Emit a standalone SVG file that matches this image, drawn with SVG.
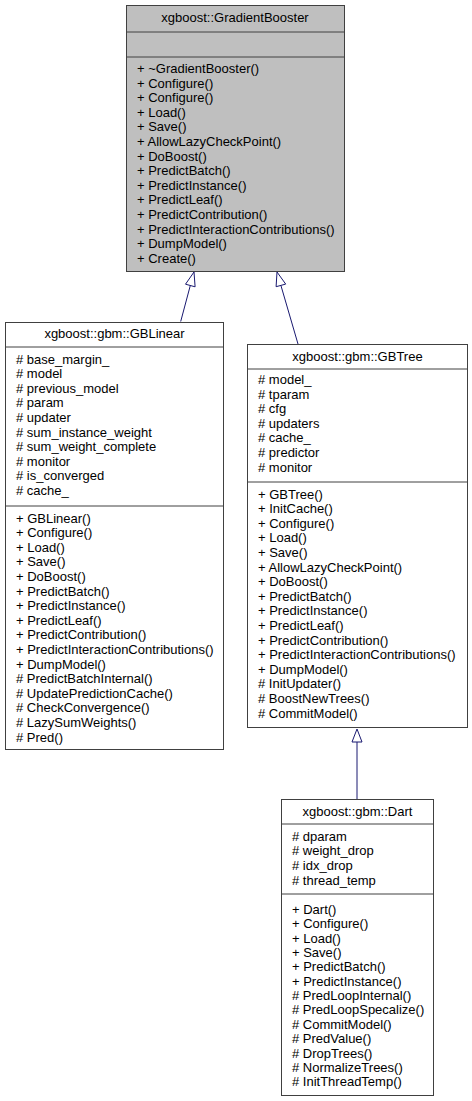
<svg xmlns="http://www.w3.org/2000/svg" width="472" height="1101" viewBox="0 0 472 1101">
<style>
text{font-family:"Liberation Sans",Arial,sans-serif;font-size:13px;fill:#000}
.t{text-anchor:middle}
.box{stroke:#404040;stroke-width:1}
.sep{stroke:#404040;stroke-width:1}
.edge{stroke:#191970;stroke-width:1;fill:none}
.head{stroke:#191970;stroke-width:1;fill:#fff}
</style>
<rect width="472" height="1101" fill="#fff"/>
<g id="connectors">
<line class="edge" x1="190.3" y1="285.5" x2="180.7" y2="321.5"/>
<polygon class="head" points="194,272 185.5,284.2 195.1,286.8"/>
<line class="edge" x1="280.9" y1="285.4" x2="298" y2="344"/>
<polygon class="head" points="277,272 285.7,284.1 276.1,286.7"/>
<line class="edge" x1="357" y1="742" x2="357" y2="799"/>
<polygon class="head" points="357,729 352,742 362,742"/>
</g>
<g id="GradientBooster">
<rect class="box" x="126.5" y="5.5" width="218" height="266" fill="#bfbfbf"/>
<line class="sep" x1="126.5" y1="32" x2="344.5" y2="32"/>
<line class="sep" x1="126.5" y1="57" x2="344.5" y2="57"/>
<text class="t" x="235" y="22">xgboost::GradientBooster</text>
<text x="137" y="73">+ ~GradientBooster()</text>
<text x="137" y="87.6">+ Configure()</text>
<text x="137" y="102.2">+ Configure()</text>
<text x="137" y="116.8">+ Load()</text>
<text x="137" y="131.4">+ Save()</text>
<text x="137" y="146">+ AllowLazyCheckPoint()</text>
<text x="137" y="160.6">+ DoBoost()</text>
<text x="137" y="175.2">+ PredictBatch()</text>
<text x="137" y="189.8">+ PredictInstance()</text>
<text x="137" y="204.4">+ PredictLeaf()</text>
<text x="137" y="219">+ PredictContribution()</text>
<text x="137" y="233.6">+ PredictInteractionContributions()</text>
<text x="137" y="248.2">+ DumpModel()</text>
<text x="137" y="262.8">+ Create()</text>
</g>
<g id="GBLinear">
<rect class="box" x="5.5" y="322.5" width="218" height="427" fill="#fff"/>
<line class="sep" x1="5.5" y1="347" x2="223.5" y2="347"/>
<line class="sep" x1="5.5" y1="506" x2="223.5" y2="506"/>
<text class="t" x="114.5" y="338">xgboost::gbm::GBLinear</text>
<text x="16" y="363.5"># base_margin_</text>
<text x="16" y="378.1"># model</text>
<text x="16" y="392.7"># previous_model</text>
<text x="16" y="407.3"># param</text>
<text x="16" y="421.9"># updater</text>
<text x="16" y="436.5"># sum_instance_weight</text>
<text x="16" y="451.1"># sum_weight_complete</text>
<text x="16" y="465.7"># monitor</text>
<text x="16" y="480.3"># is_converged</text>
<text x="16" y="494.9"># cache_</text>
<text x="16" y="522.5">+ GBLinear()</text>
<text x="16" y="537.1">+ Configure()</text>
<text x="16" y="551.7">+ Load()</text>
<text x="16" y="566.3">+ Save()</text>
<text x="16" y="580.9">+ DoBoost()</text>
<text x="16" y="595.5">+ PredictBatch()</text>
<text x="16" y="610.1">+ PredictInstance()</text>
<text x="16" y="624.7">+ PredictLeaf()</text>
<text x="16" y="639.3">+ PredictContribution()</text>
<text x="16" y="653.9">+ PredictInteractionContributions()</text>
<text x="16" y="668.5">+ DumpModel()</text>
<text x="16" y="683.1"># PredictBatchInternal()</text>
<text x="16" y="697.7"># UpdatePredictionCache()</text>
<text x="16" y="712.3"># CheckConvergence()</text>
<text x="16" y="726.9"># LazySumWeights()</text>
<text x="16" y="741.5"># Pred()</text>
</g>
<g id="GBTree">
<rect class="box" x="247.5" y="344.5" width="220" height="383" fill="#fff"/>
<line class="sep" x1="247.5" y1="369" x2="467.5" y2="369"/>
<line class="sep" x1="247.5" y1="482" x2="467.5" y2="482"/>
<text class="t" x="357.5" y="361">xgboost::gbm::GBTree</text>
<text x="258" y="384"># model_</text>
<text x="258" y="398.6"># tparam</text>
<text x="258" y="413.2"># cfg</text>
<text x="258" y="427.8"># updaters</text>
<text x="258" y="442.4"># cache_</text>
<text x="258" y="457"># predictor</text>
<text x="258" y="471.6"># monitor</text>
<text x="258" y="498.5">+ GBTree()</text>
<text x="258" y="513.1">+ InitCache()</text>
<text x="258" y="527.7">+ Configure()</text>
<text x="258" y="542.3">+ Load()</text>
<text x="258" y="556.9">+ Save()</text>
<text x="258" y="571.5">+ AllowLazyCheckPoint()</text>
<text x="258" y="586.1">+ DoBoost()</text>
<text x="258" y="600.7">+ PredictBatch()</text>
<text x="258" y="615.3">+ PredictInstance()</text>
<text x="258" y="629.9">+ PredictLeaf()</text>
<text x="258" y="644.5">+ PredictContribution()</text>
<text x="258" y="659.1">+ PredictInteractionContributions()</text>
<text x="258" y="673.7">+ DumpModel()</text>
<text x="258" y="688.3"># InitUpdater()</text>
<text x="258" y="702.9"># BoostNewTrees()</text>
<text x="258" y="717.5"># CommitModel()</text>
</g>
<g id="Dart">
<rect class="box" x="281.5" y="799.5" width="152" height="296" fill="#fff"/>
<line class="sep" x1="281.5" y1="824" x2="433.5" y2="824"/>
<line class="sep" x1="281.5" y1="894" x2="433.5" y2="894"/>
<text class="t" x="357.5" y="816">xgboost::gbm::Dart</text>
<text x="292" y="840.7"># dparam</text>
<text x="292" y="855.3"># weight_drop</text>
<text x="292" y="869.9"># idx_drop</text>
<text x="292" y="884.5"># thread_temp</text>
<text x="292" y="914">+ Dart()</text>
<text x="292" y="928.35">+ Configure()</text>
<text x="292" y="942.7">+ Load()</text>
<text x="292" y="957.05">+ Save()</text>
<text x="292" y="971.4">+ PredictBatch()</text>
<text x="292" y="985.75">+ PredictInstance()</text>
<text x="292" y="1000.1"># PredLoopInternal()</text>
<text x="292" y="1014.45"># PredLoopSpecalize()</text>
<text x="292" y="1028.8"># CommitModel()</text>
<text x="292" y="1043.15"># PredValue()</text>
<text x="292" y="1057.5"># DropTrees()</text>
<text x="292" y="1071.85"># NormalizeTrees()</text>
<text x="292" y="1086.2"># InitThreadTemp()</text>
</g>
</svg>
